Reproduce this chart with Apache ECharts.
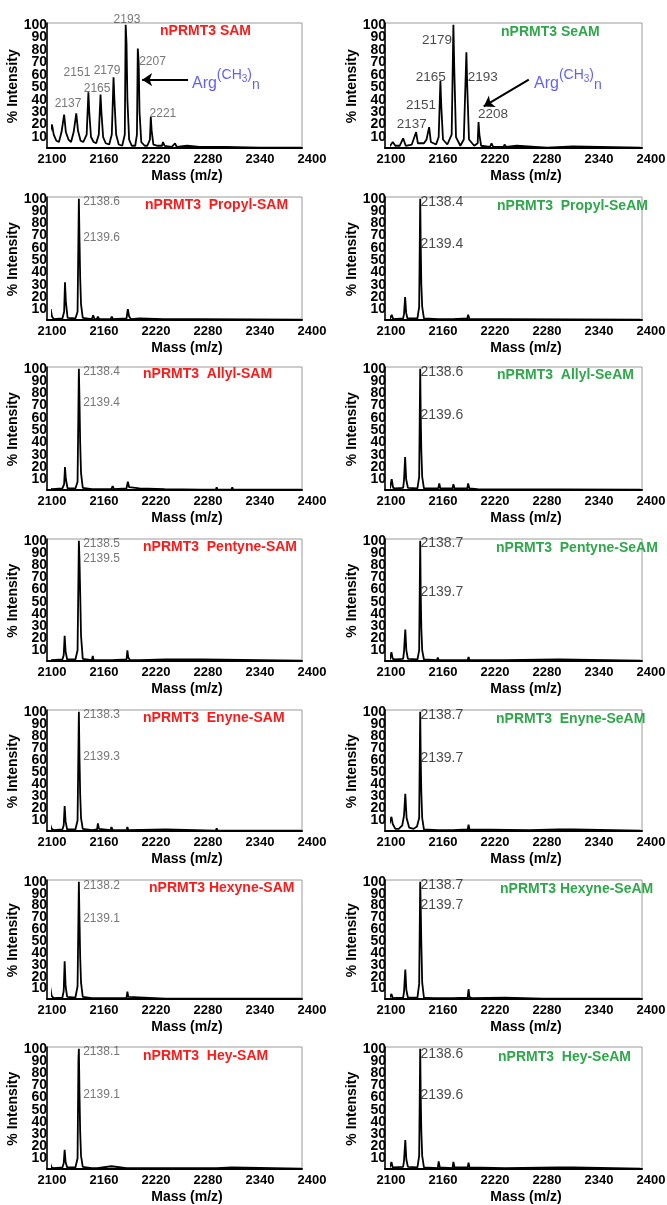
<!DOCTYPE html>
<html><head><meta charset="utf-8">
<script src="https://cdn.jsdelivr.net/npm/echarts@6/dist/echarts.min.js"></script>
<style>html,body{margin:0;padding:0;background:#fff}#c{width:667px;height:1205px}</style>
</head><body><div id="c"></div>
<script>
// ---------- tick labels ----------
const X_TICKS = [2100, 2160, 2220, 2280, 2340, 2400];
const Y_TICKS = [10, 20, 30, 40, 50, 60, 70, 80, 90, 100];

// ---------- titles ----------
const samTitles = ['nPRMT3 SAM', 'nPRMT3  Propyl-SAM', 'nPRMT3  Allyl-SAM', 'nPRMT3  Pentyne-SAM', 'nPRMT3  Enyne-SAM', 'nPRMT3 Hexyne-SAM', 'nPRMT3  Hey-SAM'];
const seamTitles = ['nPRMT3 SeAM', 'nPRMT3  Propyl-SeAM', 'nPRMT3  Allyl-SeAM', 'nPRMT3  Pentyne-SeAM', 'nPRMT3  Enyne-SeAM', 'nPRMT3 Hexyne-SeAM', 'nPRMT3  Hey-SeAM'];

// ---------- spectra: [mass (m/z), % intensity] ----------
const samSpec = [[2094,5],[2097,12],[2100,20],[2102,12],[2105,7],[2108,6],[2111,14],[2114,28],[2116,14],[2119,8],[2122,6],[2125,14],[2128,29],[2130,15],[2133,7],[2136,6],[2140,12],[2142,46],[2143,30],[2145,10],[2148,6],[2151,5],[2154,12],[2156,44],[2157,30],[2159,10],[2162,5],[2166,4],[2169,12],[2171,58],[2172,40],[2174,12],[2177,4],[2181,3],[2184,12],[2185,100],[2186,85],[2187,40],[2189,8],[2192,3],[2196,3],[2198,12],[2199,81],[2200,70],[2201,30],[2203,6],[2207,3],[2210,3],[2213,8],[2214,26],[2215,15],[2217,4],[2222,3],[2227,3],[2228,6],[2230,3],[2238,2],[2242,5],[2244,2],[2256,3],[2258,2],[2270,2],[2300,2],[2340,1.5],[2388,1.5]];
const seamSpec = [[2094,2],[2099,3],[2102,6],[2105,3],[2110,3],[2114,9],[2117,3],[2124,4],[2129,14],[2131,5],[2138,5],[2141,8],[2144,18],[2146,6],[2152,4],[2155,10],[2157,55],[2158,35],[2160,8],[2165,4],[2170,12],[2172,100],[2173,65],[2175,10],[2180,3],[2184,8],[2187,78],[2188,50],[2190,8],[2196,3],[2200,5],[2201,22],[2202,12],[2204,3],[2214,2],[2216,5],[2218,2],[2230,2],[2231,4],[2233,2],[2245,3],[2247,1.5],[2280,1.5],[2310,2.5],[2312,1.5],[2388,1.5]];

const propylSamSpec = [[2094,2],[2097,3],[2098.5,10],[2100,4],[2102,2],[2112,2.5],[2114,8],[2115,32],[2116,16],[2118,3],[2127,2.5],[2129.5,8],[2131,100],[2131.7,68],[2132.5,36],[2133.5,14],[2135.5,3],[2146,2],[2147.5,5],[2149,2],[2151.5,2],[2153,4],[2154.5,2],[2167.5,2],[2169,4],[2170.5,2],[2186,2.5],[2187.5,10],[2189,4],[2191,2],[2201,2.5],[2229,2],[2230,3],[2231,2],[2272,2],[2273,3],[2274,2],[2388,1.5]];
const propylSeamSpec = [[2094,2],[2099,2.5],[2100.8,5.5],[2102.5,2],[2114,2.5],[2115,6],[2116.3,20],[2117.5,7],[2119,2.5],[2130.5,2.5],[2132.5,12],[2133.7,100],[2134.3,63],[2135,30],[2136,12],[2138,2.5],[2154.5,2],[2155.7,3.5],[2157,2],[2171,2],[2172,3.5],[2173,2],[2188,2.5],[2189,5.5],[2190.5,2],[2230,2],[2388,1.5]];

const allylSamSpec = [[2094,2],[2097,2.5],[2098.5,3.5],[2100,2],[2112,2.5],[2114,6],[2115,20],[2116,10],[2118,2.5],[2127,2.5],[2129.5,8],[2131,100],[2131.7,75],[2132.5,40],[2133.5,15],[2135.5,3],[2146,2],[2147.5,3.5],[2149,2],[2152,2],[2153,3],[2154,2],[2168.5,2],[2170,4.5],[2171.5,2],[2186,2.5],[2187.5,8],[2189,3.5],[2191,2],[2201,2.5],[2230,2],[2231,2.5],[2232,1.5],[2272,1.5],[2273,2.5],[2274,1.5],[2289,1.5],[2290,3.5],[2291,1.5],[2307,1.5],[2308,3.5],[2309,1.5],[2388,1.5]];
const allylSeamSpec = [[2094,2],[2099,3],[2100.8,10],[2102.5,3],[2105,2.5],[2114,3],[2115,9],[2116.3,28],[2117.5,10],[2119.5,3],[2130.5,2.5],[2132.5,12],[2133.7,100],[2134.3,62],[2135,33],[2136,12],[2138,2.5],[2154.5,2.5],[2155.7,6.5],[2157,2.5],[2171,2.5],[2172,6],[2173.3,2.5],[2188,2.5],[2189,6.5],[2190.5,2.5],[2200,2],[2388,1.5]];

const pentyneSamSpec = [[2094,2],[2096.5,2],[2098,3.5],[2099.5,2],[2112,2.5],[2113.5,6],[2114.6,22],[2115.7,9],[2117.5,2.5],[2127,2.5],[2129.5,10],[2131,100],[2131.7,85],[2132.5,58],[2133.5,22],[2135.5,3],[2146,2],[2147,5.5],[2148,2],[2169,2],[2170,3],[2171,2],[2186,2.5],[2187,10],[2188,4],[2190,2],[2201,2],[2231,2.5],[2273,2.5],[2388,1.5]];
const pentyneSeamSpec = [[2094,2],[2099,3],[2100.5,8.5],[2102,3],[2105,2.5],[2114,3],[2115,9],[2116.5,27],[2117.7,10],[2119.5,3],[2130.5,2.5],[2132.5,10],[2133.7,100],[2134.3,57],[2135,28],[2136,10],[2138,2.5],[2153,2],[2154,4],[2155,2],[2171,2],[2172,3],[2173,2],[2188.5,2],[2189.5,4.5],[2190.5,2],[2231,2],[2293,2.5],[2388,1.5]];

const enyneSamSpec = [[2094,2],[2096.5,3],[2098,6.5],[2099.5,3],[2102,2],[2112,2.5],[2113.5,6],[2114.6,22],[2115.7,9],[2117.5,2.5],[2127,2.5],[2129.5,10],[2131,100],[2131.7,63],[2132.5,32],[2133.5,12],[2135.5,3],[2146,2],[2147,2.5],[2152,2.5],[2153,7.5],[2154.2,3],[2167.5,2],[2168.6,4.5],[2170,2],[2186,2],[2187,4.5],[2188,2],[2231,2.5],[2289,1.5],[2290,3.5],[2291,1.5],[2307,1.5],[2307.6,2.5],[2308.5,1.5],[2388,1.5]];
const enyneSeamSpec = [[2094,3],[2097,5],[2099,9],[2100.5,13],[2102,7],[2105,3],[2109,3],[2113,6],[2115,14],[2116.5,32],[2118,12],[2121,4],[2126,3],[2130,5],[2132.5,12],[2133.7,100],[2134.3,61],[2135,33],[2136,12],[2138,2.5],[2154,2],[2155,3],[2156,2],[2171,2],[2172,3.5],[2173,2],[2188.5,2.5],[2189.5,6.5],[2190.5,2.5],[2260,2],[2293,2.5],[2310,2.5],[2388,1.5]];

const hexyneSamSpec = [[2094,3],[2096.5,5],[2098,11],[2099.5,4],[2102,2],[2112,2.5],[2113.5,8],[2114.6,33],[2115.7,12],[2117.5,3],[2127,2.5],[2129.5,12],[2131,100],[2131.7,69],[2132.5,37],[2133.5,15],[2135.5,3],[2146,2],[2147,2.5],[2169,2],[2170,2.5],[2186,2],[2187,7.5],[2188,3],[2190,2],[2231,1.5],[2273,1.5],[2290,1.5],[2388,1.5]];
const hexyneSeamSpec = [[2094,2],[2099,3],[2100.5,5.5],[2102,2],[2114,2.5],[2115,7],[2116.5,26],[2117.7,9],[2119.5,2.5],[2130.5,2.5],[2132.5,14],[2133.7,100],[2134.3,79],[2135,48],[2136,15],[2138,2.5],[2149,2],[2150,3.5],[2151,2],[2156,2],[2171,2],[2172,3.5],[2173,2],[2188.5,2.5],[2189.5,9.5],[2190.5,3],[2193,2],[2231,2.5],[2275,1.5],[2388,1.5]];

const heySamSpec = [[2094,2],[2096.5,3],[2098,5.5],[2099.5,2.5],[2102,2],[2112,2.5],[2113.5,6],[2114.6,17],[2115.7,7],[2117.5,2.5],[2127,2.5],[2129.5,10],[2130.5,91],[2131,100],[2131.7,64],[2132.5,32],[2133.5,12],[2135.5,3],[2146,2],[2147,2.5],[2152,2],[2153,3.5],[2154,2],[2168.6,3.5],[2186,2],[2187,3.5],[2188,2],[2231,2],[2290,2],[2307.6,2.5],[2388,1.5]];
const heySeamSpec = [[2094,2],[2099,3],[2100.5,7],[2102,2.5],[2114,3],[2115,8],[2116.5,25],[2117.7,9],[2119.5,3],[2130.5,2.5],[2132.5,12],[2133.7,100],[2134.3,61],[2135,32],[2136,12],[2138,2.5],[2154,2],[2155,7.5],[2156.3,2.5],[2171,2],[2172,7],[2173.3,2.5],[2188.5,2.5],[2189.5,6.5],[2190.5,2.5],[2232,2],[2293,2.5],[2310,2.5],[2388,1.5]];

// ---------- peak labels: [mass, intensity, text] ----------
const samLabels = [[2118.5,37,'2137'],[2128.8,62,'2151'],[2152,49,'2165'],[2163.5,63,'2179'],[2186.5,104,'2193'],[2216,70.5,'2207'],[2228,28.5,'2221']];
const seamLabels = [[2153,88,'2179'],[2146,57.7,'2165'],[2206,57.7,'2193'],[2134.6,35.4,'2151'],[2124,20.3,'2137'],[2217.7,28.3,'2208']];
const propylSamLabels = [[2136,98,'2138.6'],[2136,68.5,'2139.6']];
const propylSeamLabels = [[2134,97,'2138.4'],[2134,63,'2139.4']];
const allylSamLabels = [[2136,97.5,'2138.4'],[2136,72.6,'2139.4']];
const allylSeamLabels = [[2134,97,'2138.6'],[2134,62,'2139.6']];
const pentyneSamLabels = [[2136,98,'2138.5'],[2136,85,'2139.5']];
const pentyneSeamLabels = [[2134,98,'2138.7'],[2134,58,'2139.7']];
const enyneSamLabels = [[2136,98,'2138.3'],[2136,63,'2139.3']];
const enyneSeamLabels = [[2134,97,'2138.7'],[2134,62,'2139.7']];
const hexyneSamLabels = [[2136,97,'2138.2'],[2136,69,'2139.1']];
const hexyneSeamLabels = [[2134,97,'2138.7'],[2134,80,'2139.7']];
const heySamLabels = [[2136,98,'2138.1'],[2136,62,'2139.1']];
const heySeamLabels = [[2134,96,'2138.6'],[2134,62,'2139.6']];

// ---------- Arg(CH3)n annotation: text anchor and arrow [from, to] ----------
const samArgText = [2261.5, 56];
const samArrow = [[2257, 56], [2204, 56]];
const seamArgText = [2265, 56];
const seamArrow = [[2259, 56], [2207, 34.6]];

// ---------- layout ----------
const FONT = "'Liberation Sans', Arial, Helvetica, sans-serif";
const ROWS = [[23,148],[197,320],[367,490],[539,661],[710,831],[880,999],[1047,1169]];
const COLS = [{frame:47, fw:255, data:52, gap:22}, {frame:385, fw:257, data:391, gap:24}];
const TITLE_POS = [[[160,24],[501,25]],[[145,198],[497,199]],[[143,367],[497,368]],[[143,540],[496,541]],[[143,711],[496,712]],[[149,881],[500,882]],[[143,1049],[498,1050]]];
const RED = '#ff1a1a', GREEN = '#2ea84a', BLUE = '#3838f5';
const Y_TOP = 101.5; // value at the frame's top edge

const panels = [
  {row:0,col:0,spec:samSpec,labels:samLabels,title:samTitles[0],arg:samArgText,arrow:samArrow},
  {row:0,col:1,spec:seamSpec,labels:seamLabels,title:seamTitles[0],arg:seamArgText,arrow:seamArrow},
  {row:1,col:0,spec:propylSamSpec,labels:propylSamLabels,title:samTitles[1]},
  {row:1,col:1,spec:propylSeamSpec,labels:propylSeamLabels,title:seamTitles[1]},
  {row:2,col:0,spec:allylSamSpec,labels:allylSamLabels,title:samTitles[2]},
  {row:2,col:1,spec:allylSeamSpec,labels:allylSeamLabels,title:seamTitles[2]},
  {row:3,col:0,spec:pentyneSamSpec,labels:pentyneSamLabels,title:samTitles[3]},
  {row:3,col:1,spec:pentyneSeamSpec,labels:pentyneSeamLabels,title:seamTitles[3]},
  {row:4,col:0,spec:enyneSamSpec,labels:enyneSamLabels,title:samTitles[4]},
  {row:4,col:1,spec:enyneSeamSpec,labels:enyneSeamLabels,title:seamTitles[4]},
  {row:5,col:0,spec:hexyneSamSpec,labels:hexyneSamLabels,title:samTitles[5]},
  {row:5,col:1,spec:hexyneSeamSpec,labels:hexyneSeamLabels,title:seamTitles[5]},
  {row:6,col:0,spec:heySamSpec,labels:heySamLabels,title:samTitles[6]},
  {row:6,col:1,spec:heySeamSpec,labels:heySeamLabels,title:seamTitles[6]}
];

const option = {animation:false, backgroundColor:'#fff', title:[], grid:[], xAxis:[], yAxis:[], series:[]};

panels.forEach(p => {
  const [t, b] = ROWS[p.row];
  const c = COLS[p.col];
  const tp = TITLE_POS[p.row][p.col];
  option.title.push({text:p.title, left:tp[0], top:tp[1], padding:0,
    textStyle:{color:p.col===0?RED:GREEN, fontSize:14, fontWeight:'bold', fontFamily:FONT}});

  // frame grid
  const fg = option.grid.length;
  option.grid.push({left:c.frame, top:t, width:c.fw, height:b-t, show:true, borderColor:'#9a9a9a', borderWidth:1, backgroundColor:'transparent', containLabel:false, outerBoundsMode:'none'});
  option.xAxis.push({gridIndex:fg, type:'value', min:0, max:1, axisLine:{show:true,onZero:false,lineStyle:{color:'#000',width:2}}, axisTick:{show:false}, axisLabel:{show:false}, splitLine:{show:false}});
  option.yAxis.push({gridIndex:fg, type:'value', min:0, max:1, axisLine:{show:true,onZero:false,lineStyle:{color:'#000',width:1.5}}, axisTick:{show:false}, axisLabel:{show:false}, splitLine:{show:false}});

  // data grid
  const dg = option.grid.length;
  option.grid.push({left:c.data, top:t, width:260, height:b-t+1.5, show:false, containLabel:false, outerBoundsMode:'none'});
  const xi = option.xAxis.length;
  option.xAxis.push({gridIndex:dg, type:'value', min:X_TICKS[0], max:X_TICKS[X_TICKS.length-1], interval:X_TICKS[1]-X_TICKS[0],
    axisLine:{show:false}, axisTick:{show:false}, splitLine:{show:false},
    axisLabel:{show:true, margin:3, color:'#000', fontSize:13, fontWeight:'bold', fontFamily:FONT, showMinLabel:true, showMaxLabel:true, hideOverlap:false,
      formatter:v => String(v)},
    name:'Mass (m/z)', nameLocation:'middle', nameGap:20,
    nameTextStyle:{color:'#000', fontSize:14, fontWeight:'bold', fontFamily:FONT, padding:[0,0,0,10]}});
  const yi = option.yAxis.length;
  option.yAxis.push({gridIndex:dg, type:'value', min:0, max:Y_TOP, interval:Y_TICKS[1]-Y_TICKS[0],
    axisLine:{show:false}, axisTick:{show:false}, splitLine:{show:false},
    axisLabel:{show:true, margin:5, color:'#000', fontSize:14, fontWeight:'bold', fontFamily:FONT, hideOverlap:false,
      formatter:v => Y_TICKS.indexOf(v) >= 0 ? String(v) : ''},
    name:'% Intensity', nameLocation:'middle', nameGap:c.gap, nameRotate:90,
    nameTextStyle:{color:'#000', fontSize:14, fontWeight:'bold', fontFamily:FONT}});

  const s = {type:'line', xAxisIndex:xi, yAxisIndex:yi, data:p.spec, symbol:'none', clip:false, silent:true, z:3,
    lineStyle:{color:'#000', width:1.8}};
  if (p.arrow) {
    s.markLine = {silent:true, symbol:['none','arrow'], symbolSize:10, animation:false,
      lineStyle:{color:'#000', width:2, type:'solid'}, itemStyle:{color:'#000'}, label:{show:false},
      data:[[{coord:p.arrow[0]},{coord:p.arrow[1]}]]};
  }
  option.series.push(s);

  const first = p.row === 0;
  option.series.push({type:'scatter', xAxisIndex:xi, yAxisIndex:yi, data:p.labels, symbolSize:0, clip:false, silent:true, z:5,
    label:{show:true, position:[0,0], formatter:q => q.data[2],
      align:first ? 'center' : 'left', verticalAlign:'middle',
      color:p.col===0 ? '#555' : '#1a1a1a', fontSize:p.col===0 ? 12 : (first ? 13.5 : 14), fontFamily:FONT}});

  if (p.arg) {
    option.series.push({type:'scatter', xAxisIndex:xi, yAxisIndex:yi, data:[p.arg], symbolSize:0, clip:false, silent:true, z:5,
      label:{show:true, position:[0,0], align:'left', verticalAlign:'middle',
        formatter:'{a|Arg}{p|(}{c|CH}{s|3}{p|)}{n|n}',
        rich:{
          a:{fontSize:16, color:BLUE, fontFamily:FONT, lineHeight:24, verticalAlign:'bottom'},
          p:{fontSize:14, color:BLUE, fontFamily:FONT, lineHeight:24, verticalAlign:'top'},
          c:{fontSize:14, color:BLUE, fontFamily:FONT, lineHeight:24, verticalAlign:'top'},
          s:{fontSize:10, color:BLUE, fontFamily:FONT, lineHeight:24, verticalAlign:'top', padding:[7,0,0,0]},
          n:{fontSize:14, color:BLUE, fontFamily:FONT, lineHeight:24, verticalAlign:'bottom'}
        }}});
  }
});

const chart = echarts.init(document.getElementById('c'), null, {renderer:'canvas'});
chart.setOption(option);
</script></body></html>
